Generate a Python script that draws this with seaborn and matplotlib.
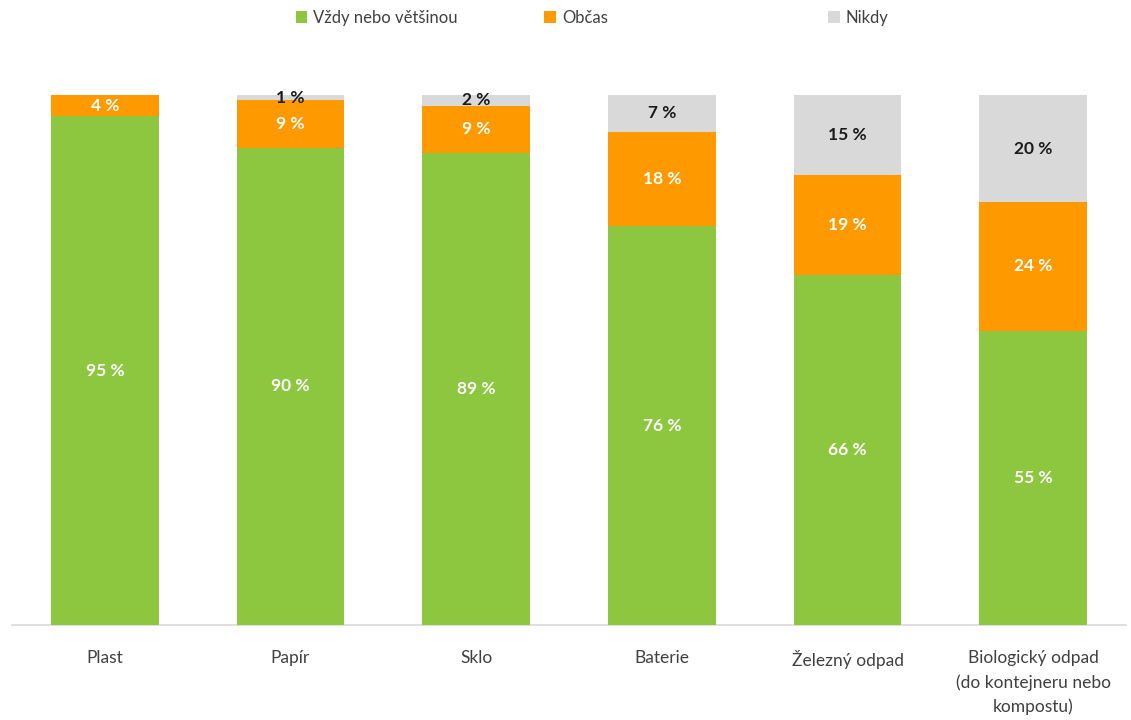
import matplotlib
matplotlib.use("Agg")
import matplotlib.pyplot as plt
import seaborn as sns
import numpy as np
import pandas as pd
from matplotlib.patches import Patch

categories = ["Plast", "Papír", "Sklo", "Baterie", "Železný odpad",
              "Biologický odpad\n(do kontejneru nebo\nkompostu)"]
vzdy = [95, 90, 89, 76, 66, 55]
obcas = [4, 9, 9, 18, 19, 24]
nikdy = [0, 1, 2, 7, 15, 20]
series_names = ["Vždy nebo většinou", "Občas", "Nikdy"]

GREEN = "#8DC63F"
ORANGE = "#FF9900"
GREY = "#D9D9D9"

sns.set_theme(style="white")
plt.rcParams['font.family'] = ['Lato', 'DejaVu Sans']

fig = plt.figure(figsize=(11.31, 7.20), dpi=100)
ax = fig.add_axes([0.0106, 0.132, 0.985, 0.736])

# 100 % stacked: each bar is scaled to its total
df = pd.DataFrame({"cat": categories, "v": vzdy, "o": obcas, "n": nikdy})
tot = df["v"] + df["o"] + df["n"]
df["p1"] = df["v"] / tot * 100
df["p2"] = (df["v"] + df["o"]) / tot * 100
df["p3"] = 100.0

kw = dict(width=0.58, saturation=1, ax=ax, linewidth=0, edgecolor="none")
sns.barplot(data=df, x="cat", y="p3", color=GREY, zorder=2, **kw)
sns.barplot(data=df, x="cat", y="p2", color=ORANGE, zorder=3, **kw)
sns.barplot(data=df, x="cat", y="p1", color=GREEN, zorder=4, **kw)

for i in range(len(categories)):
    v, o, n = vzdy[i], obcas[i], nikdy[i]
    p1, p2 = df["p1"][i], df["p2"][i]
    ax.text(i, p1 / 2, f"{v} %", ha="center", va="center", color="white",
            fontsize=12.5, fontweight="bold", zorder=5)
    ax.text(i, (p1 + p2) / 2, f"{o} %", ha="center", va="center", color="white",
            fontsize=12.5, fontweight="bold", zorder=5)
    if n > 0:
        ax.text(i, (p2 + 100) / 2, f"{n} %", ha="center", va="center", color="#1a1a1a",
                fontsize=12.5, fontweight="bold", zorder=5)

ax.set_ylim(0, 100)
ax.set_xlim(-0.5, len(categories) - 0.5)
ax.set_xlabel("")
ax.set_ylabel("")
ax.set_yticks([])
for s in ["top", "right", "left"]:
    ax.spines[s].set_visible(False)
ax.spines["bottom"].set_color("#D9D9D9")
ax.spines["bottom"].set_linewidth(1.2)
ax.tick_params(axis="x", length=0, pad=18, labelsize=12.5, labelcolor="#404040")
for lbl in ax.get_xticklabels():
    lbl.set_linespacing(1.6)
    lbl.set_verticalalignment("top")

colors = [GREEN, ORANGE, GREY]
xpos = [0.254, 0.474, 0.725]
for name, c, xp in zip(series_names, colors, xpos):
    fig.legend(handles=[Patch(facecolor=c, edgecolor="none")], labels=[name],
               loc="center left", bbox_to_anchor=(xp, 0.975), frameon=False,
               fontsize=12, handlelength=0.7, handleheight=0.7, handletextpad=0.35,
               labelcolor="#404040", borderpad=0)

fig.savefig("out.png", dpi=100, facecolor="white")
